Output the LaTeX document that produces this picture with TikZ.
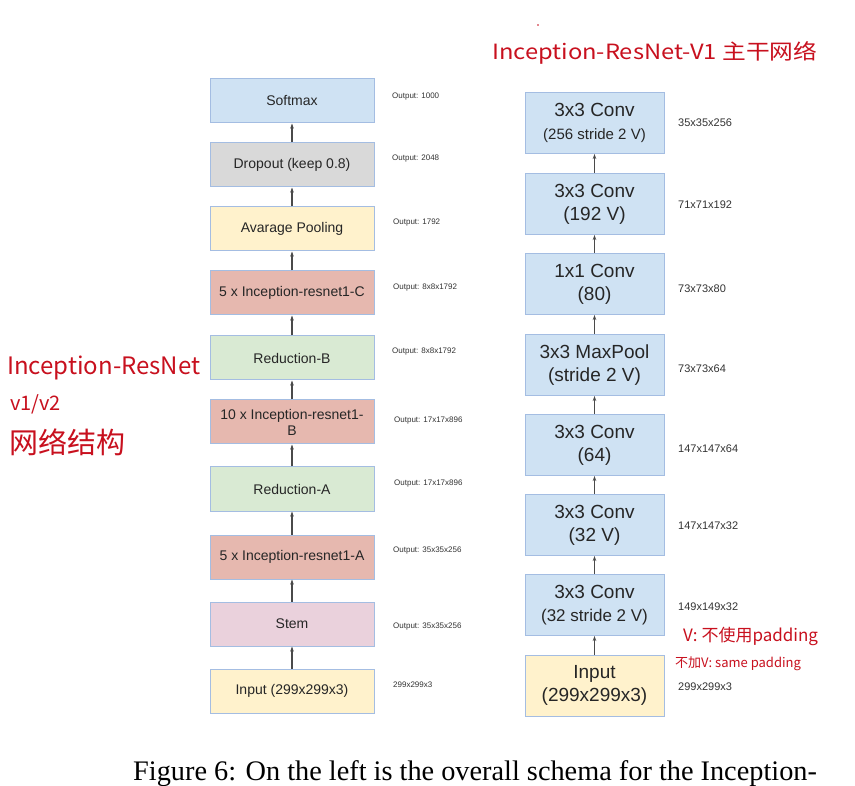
\documentclass[tikz,border=0pt]{standalone}
\usepackage{fontspec}
\setmainfont{Liberation Serif}
\setsansfont{Liberation Sans}
\newfontfamily\cjk{Noto Sans CJK SC}
\usepackage{tikz}
\usetikzlibrary{arrows.meta}
\definecolor{fillblue}{HTML}{CFE2F3}
\definecolor{fillgray}{HTML}{D9D9D9}
\definecolor{fillyellow}{HTML}{FFF2CC}
\definecolor{fillred}{HTML}{E6B8AF}
\definecolor{fillgreen}{HTML}{D9EAD3}
\definecolor{fillpink}{HTML}{EAD1DC}
\definecolor{edgeblue}{HTML}{A4BDE2}
\definecolor{arrowgray}{HTML}{4A4A4A}
\definecolor{labelgray}{HTML}{333333}
\definecolor{pen}{RGB}{200,16,30}

\begin{document}
\begin{tikzpicture}[x=1pt,y=-1pt,
  block/.style={draw=edgeblue, line width=1pt, minimum width=164pt, minimum height=44pt,
    inner sep=0pt, align=center, text=black!85, font=\sffamily\fontsize{14}{16}\selectfont},
  stemblock/.style={draw=edgeblue, line width=1pt, minimum width=139pt, minimum height=61pt,
    inner sep=0pt, align=center, fill=fillblue, text=black!85, font=\sffamily\fontsize{19}{23}\selectfont},
  outlabel/.style={anchor=west, inner sep=0pt, text=labelgray, font=\sffamily\fontsize{8}{9}\selectfont},
  dimlabel/.style={anchor=west, inner sep=0pt, text=labelgray, font=\sffamily\fontsize{11}{12}\selectfont},
  up/.style={-{Stealth[length=5pt,width=3.5pt]}, line width=1.1pt, draw=arrowgray},
  note/.style={inner sep=0pt, text=pen, font=\cjk}]
  \useasboundingbox (0,0) rectangle (855,786);
  \fill[white] (0,0) rectangle (855,786);

  % left column: overall schema
  \node[block, fill=fillblue]   (softmax) at (292,101) {Softmax};
  \node[block, fill=fillgray]   (dropout) at (292,165) {Dropout (keep 0.8)};
  \node[block, fill=fillyellow] (avgpool) at (292,229) {Avarage Pooling};
  \node[block, fill=fillred]    (incC)    at (292,293) {5 x Inception-resnet1-C};
  \node[block, fill=fillgreen]  (redB)    at (292,358) {Reduction-B};
  \node[block, fill=fillred]    (incB)    at (292,422) {10 x Inception-resnet1-\\B};
  \node[block, fill=fillgreen]  (redA)    at (292,489) {Reduction-A};
  \node[block, fill=fillred]    (incA)    at (292,557) {5 x Inception-resnet1-A};
  \node[block, fill=fillpink]   (stem)    at (292,624) {Stem};
  \node[block, fill=fillyellow] (input)   at (292,691) {Input (299x299x3)};

  \draw[up] (dropout.north) -- (softmax.south);
  \draw[up] (avgpool.north) -- (dropout.south);
  \draw[up] (incC.north) -- (avgpool.south);
  \draw[up] (redB.north) -- (incC.south);
  \draw[up] (incB.north) -- (redB.south);
  \draw[up] (redA.north) -- (incB.south);
  \draw[up] (incA.north) -- (redA.south);
  \draw[up] (stem.north) -- (incA.south);
  \draw[up] (input.north) -- (stem.south);

  \node[outlabel] (osoftmax) at (392,97)  {Output: 1000};
  \node[outlabel] (odropout) at (392,159) {Output: 2048};
  \node[outlabel] (oavgpool) at (393,223) {Output: 1792};
  \node[outlabel] (oincC)    at (393,288) {Output: 8x8x1792};
  \node[outlabel] (oredB)    at (392,352) {Output: 8x8x1792};
  \node[outlabel] (oincB)    at (394,421) {Output: 17x17x896};
  \node[outlabel] (oredA)    at (394,484) {Output: 17x17x896};
  \node[outlabel] (oincA)    at (393,551) {Output: 35x35x256};
  \node[outlabel] (ostem)    at (393,627) {Output: 35x35x256};
  \node[outlabel] (oinput)   at (393,685) {299x299x3};

  % right column: stem network
  \node[stemblock] (conv6)   at (594.5,123) {3x3 Conv\\{\fontsize{15}{18}\selectfont(256 stride 2 V)}};
  \node[stemblock] (conv5)   at (594.5,204) {3x3 Conv\\(192 V)};
  \node[stemblock] (conv4)   at (594.5,284) {1x1 Conv\\(80)};
  \node[stemblock] (maxpool) at (594.5,365) {3x3 MaxPool\\(stride 2 V)};
  \node[stemblock] (conv3)   at (594.5,445) {3x3 Conv\\(64)};
  \node[stemblock] (conv2)   at (594.5,525) {3x3 Conv\\(32 V)};
  \node[stemblock] (conv1)   at (594.5,605) {3x3 Conv\\{\fontsize{17}{20}\selectfont(32 stride 2 V)}};
  \node[stemblock, fill=fillyellow] (img) at (594.5,685.5) {Input\\(299x299x3)};

  \draw[up] (conv5.north) -- (conv6.south);
  \draw[up] (conv4.north) -- (conv5.south);
  \draw[up] (maxpool.north) -- (conv4.south);
  \draw[up] (conv3.north) -- (maxpool.south);
  \draw[up] (conv2.north) -- (conv3.south);
  \draw[up] (conv1.north) -- (conv2.south);
  \draw[up] (img.north) -- (conv1.south);

  \node[dimlabel] (dconv6)   at (678,123) {35x35x256};
  \node[dimlabel] (dconv5)   at (678,205) {71x71x192};
  \node[dimlabel] (dconv4)   at (678,289) {73x73x80};
  \node[dimlabel] (dmaxpool) at (678,369) {73x73x64};
  \node[dimlabel] (dconv3)   at (678,449) {147x147x64};
  \node[dimlabel] (dconv2)   at (678,526) {147x147x32};
  \node[dimlabel] (dconv1)   at (678,607) {149x149x32};
  \node[dimlabel] (dimg)     at (678,687) {299x299x3};

  % handwritten notes
  \fill[pen] (538,25) circle (0.8);
  \node[note, anchor=west, font=\cjk\fontsize{21}{23}\selectfont] (title) at (492,53)
    {\scalebox{1.13}[1]{Inception-ResNet-V1 主干网络}};
  \node[note, anchor=west, font=\cjk\fontsize{24}{26}\selectfont] (lnote1) at (7,368) {Inception-ResNet};
  \node[note, anchor=west, font=\cjk\fontsize{20}{22}\selectfont] (lnote2) at (10,404) {v1/v2};
  \node[note, anchor=west, font=\cjk\fontsize{29}{31}\selectfont] (lnote3) at (9,442) {网络结构};
  \node[note, anchor=west, font=\cjk\fontsize{17}{19}\selectfont] (vnote) at (683,636) {V: 不使用padding};
  \node[note, anchor=west, font=\cjk\fontsize{13}{15}\selectfont] (snote) at (675,664) {不加V: same padding};

  % caption
  \node[anchor=base west, inner sep=0pt, font=\fontsize{28.3}{30}\selectfont] (caption) at (133,780)
    {Figure 6: On the left is the overall schema for the Inception-};
\end{tikzpicture}
\end{document}
